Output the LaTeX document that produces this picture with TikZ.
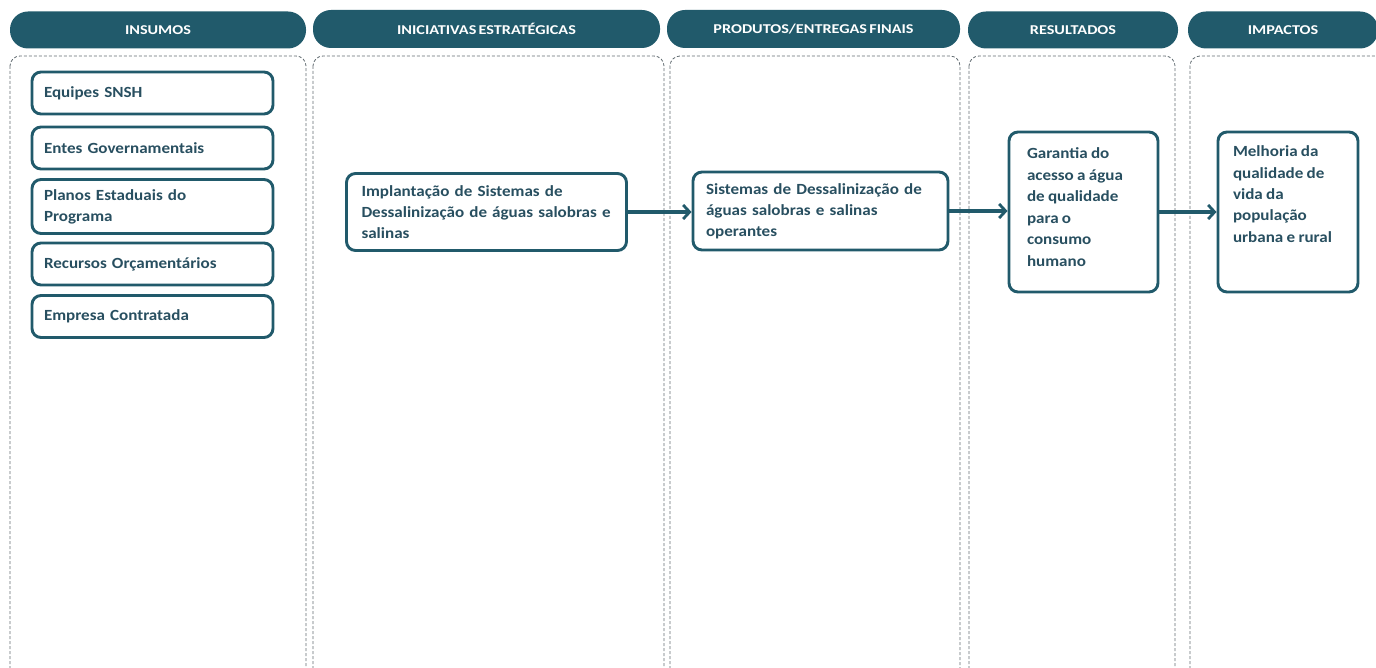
\documentclass[tikz,border=0pt]{standalone}
\usepackage{fontspec}
\setmainfont{Carlito}[FakeStretch=1.1, WordSpace=0.85]
\newfontfamily\hdrfont{Carlito}[FakeStretch=1.2, WordSpace=0.6]
\usetikzlibrary{arrows.meta}
\definecolor{teal1}{HTML}{215A6B}
\definecolor{tealtxt}{HTML}{284F60}
\definecolor{dashgrey}{HTML}{626C72}
\tikzset{
  hdr/.style={fill=teal1, rounded corners=18pt, inner sep=0pt, text=white,
    font=\hdrfont\fontsize{13.5}{15}\selectfont\bfseries},
  lane/.style={draw=dashgrey, line width=0.8pt, dash pattern=on 3pt off 2pt, rounded corners=10pt},
  ibox/.style={draw=teal1, line width=2.9pt, rounded corners=9pt, fill=white,
    text=tealtxt, font=\fontsize{15.5}{21}\selectfont\bfseries, align=left,
    inner xsep=12pt, inner ysep=0pt},
  arr/.style={draw=teal1, line width=3.2pt, -{Straight Barb[length=6.5pt,width=14pt,line width=2.8pt]}}
}
\begin{document}
\begin{tikzpicture}[x=1pt,y=-1pt]
\useasboundingbox (0,0) rectangle (1376,668);
% lanes
\draw[lane] (10,56) rectangle (306,700);
\draw[lane] (313,56) rectangle (664,700);
\draw[lane] (670,56) rectangle (960,700);
\draw[lane] (969,56) rectangle (1175,700);
\draw[lane] (1190,56) rectangle (1400,700);
% headers
\node[hdr, minimum width=296pt, minimum height=37pt] (h1) at (158,30) {INSUMOS};
\node[hdr, minimum width=347pt, minimum height=38pt] (h2) at (486.5,29) {INICIATIVAS ESTRATÉGICAS};
\node[hdr, minimum width=293pt, minimum height=38pt] (h3) at (813.5,29) {PRODUTOS/ENTREGAS FINAIS};
\node[hdr, minimum width=210pt, minimum height=37pt] (h4) at (1073,30) {RESULTADOS};
\node[hdr, minimum width=190pt, minimum height=37pt] (h5) at (1283,30) {IMPACTOS};
% inputs
\node[ibox, text width=217pt, minimum height=42pt] (i1) at (152.5,93) {Equipes SNSH};
\node[ibox, text width=217pt, minimum height=42pt] (i2) at (152.5,148) {Entes Governamentais};
\node[ibox, text width=217pt, minimum height=54pt] (i3) at (152.5,206.5) {Planos Estaduais do\\Programa};
\node[ibox, text width=217pt, minimum height=42pt] (i4) at (152.5,264) {Recursos Orçamentários};
\node[ibox, text width=217pt, minimum height=42pt] (i5) at (152.5,316.5) {Empresa Contratada};
% chain
\node[ibox, inner xsep=15pt, text width=250pt, minimum height=77pt] (a) at (486.5,212) {Implantação de Sistemas de\\Dessalinização de águas salobras e\\salinas};
\node[ibox, inner xsep=13pt, text width=229pt, minimum height=78pt] (b) at (820.5,211) {Sistemas de Dessalinização de\\águas salobras e salinas\\operantes};
\node[ibox, inner xsep=0pt, minimum width=149pt, minimum height=160pt] (c) at (1083.5,212) {\parbox[c][140pt][t]{113pt}{\vspace*{6pt}\raggedright\baselineskip=21.5pt Garantia do\\acesso a água\\de qualidade\\para o\\consumo\\humano}};
\node[ibox, inner xsep=0pt, minimum width=140pt, minimum height=160pt] (d) at (1288,212) {\parbox[c][140pt][t]{110pt}{\vspace*{4pt}\raggedright\baselineskip=21.3pt Melhoria da\\qualidade de\\vida da\\população\\urbana e rural}};
\draw[arr] (a.east) -- (b.west |- a.east);
\draw[arr] (b.east) -- (c.west |- b.east);
\draw[arr] (c.east) -- (d.west |- c.east);
\end{tikzpicture}
\end{document}
